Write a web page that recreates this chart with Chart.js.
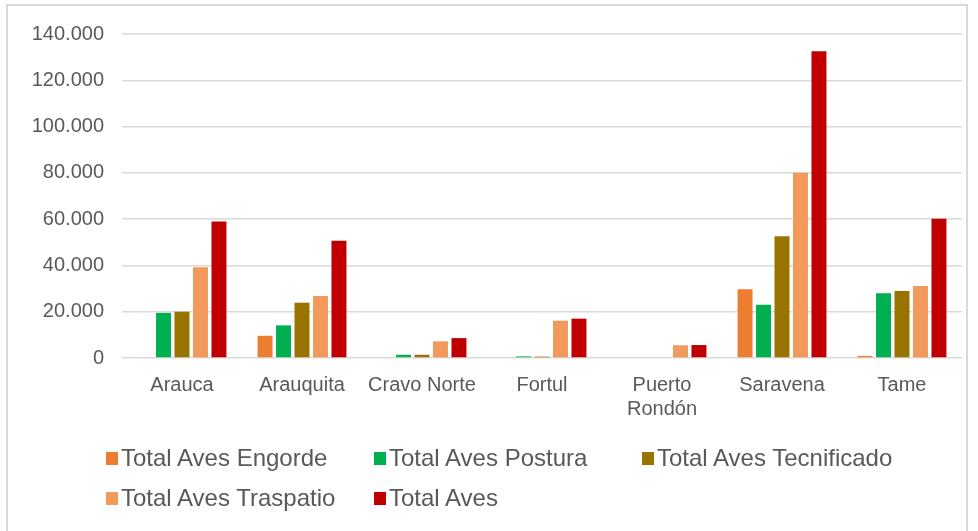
<!DOCTYPE html>
<html lang="es">
<head>
<meta charset="utf-8">
<script src="https://cdn.jsdelivr.net/npm/chart.js@4"></script>
<style>
    html, body {
        margin: 0;
        padding: 0;
        background: #ffffff;
    }

    .frame {
        position: relative;
        width: 978px;
        height: 531px;
        overflow: hidden;
        font-family: "Liberation Sans", Arial, sans-serif;
    }

    .frame-border {
        position: absolute;
        left: 6px;
        top: 4px;
        width: 962px;
        height: 600px;
        border: 2px solid #d9d9d9;
        box-sizing: border-box;
    }

    .frame canvas {
        position: absolute;
        left: 0;
        top: 0;
    }

    .legend {
        position: absolute;
        left: 106px;
        top: 444px;
        display: grid;
        grid-template-columns: repeat(3, 268px);
        row-gap: 12px;
    }

    .legend-item {
        display: flex;
        align-items: center;
        height: 28px;
        font-size: 24px;
        color: #595959;
        white-space: nowrap;
    }

    .legend-swatch {
        width: 12px;
        height: 13px;
        margin-right: 3px;
        flex: none;
    }
</style>
</head>
<body>
<div class="frame">
    <div class="frame-border"></div>
    <canvas id="chart" width="978" height="531"></canvas>
    <div class="legend" id="legend"></div>
</div>
<script>
const municipios = ['Arauca', 'Arauquita', 'Cravo Norte', 'Fortul', ['Puerto', 'Rondón'], 'Saravena', 'Tame'];

const avesEngorde = [300, 9600, 0, 0, 0, 29700, 900];
const avesPostura = [19500, 14100, 1400, 700, 0, 23000, 28000];
const avesTecnificado = [20000, 23900, 1400, 600, 0, 52600, 29000];
const avesTraspatio = [39200, 26800, 7200, 16100, 5500, 80000, 31100];
const totalAves = [59000, 50700, 8600, 17000, 5600, 132500, 60200];

const yTicks = [0, 20000, 40000, 60000, 80000, 100000, 120000, 140000];

const seriesNames = ['Total Aves Engorde', 'Total Aves Postura', 'Total Aves Tecnificado', 'Total Aves Traspatio', 'Total Aves'];
const seriesColors = ['#ED7D31', '#00B050', '#997300', '#F19A5C', '#C00000'];
const seriesValues = [avesEngorde, avesPostura, avesTecnificado, avesTraspatio, totalAves];

const formatMiles = (value) => value.toLocaleString('de-DE');

const canvas = document.getElementById('chart');
const chart = new Chart(canvas.getContext('2d'), {
    type: 'bar',
    data: {
        labels: municipios,
        datasets: seriesNames.map((name, i) => ({
            label: name,
            data: seriesValues[i],
            backgroundColor: seriesColors[i],
            borderWidth: 0,
            categoryPercentage: 0.77,
            barPercentage: 0.81,
        })),
    },
    options: {
        responsive: false,
        animation: false,
        layout: {
            padding: {
                top: 34,
                right: 16,
                bottom: 0,
                left: 0,
            },
        },
        plugins: {
            legend: {
                display: false,
            },
            tooltip: {
                enabled: false,
            },
        },
        scales: {
            x: {
                grid: {
                    display: false,
                },
                border: {
                    display: false,
                },
                ticks: {
                    color: '#595959',
                    padding: 7,
                    maxRotation: 0,
                    autoSkip: false,
                    font: {
                        family: '"Liberation Sans", Arial, sans-serif',
                        size: 20,
                    },
                },
                afterFit(scale) {
                    scale.height = 531 - 358;
                },
            },
            y: {
                min: 0,
                max: yTicks[yTicks.length - 1],
                afterBuildTicks(scale) {
                    scale.ticks = yTicks.map((value) => ({ value }));
                },
                grid: {
                    color: '#d9d9d9',
                    lineWidth: 1.5,
                    drawTicks: false,
                },
                border: {
                    display: false,
                },
                ticks: {
                    color: '#595959',
                    padding: 18,
                    callback: (value) => formatMiles(value),
                    font: {
                        family: '"Liberation Sans", Arial, sans-serif',
                        size: 20,
                    },
                },
                afterFit(scale) {
                    scale.width = 122;
                },
            },
        },
    },
});

// legend laid out as a fixed three-column grid
const legendRoot = document.getElementById('legend');
chart.options.plugins.legend.labels.generateLabels(chart).forEach((item) => {
    const entry = document.createElement('div');
    entry.className = 'legend-item';

    const swatch = document.createElement('span');
    swatch.className = 'legend-swatch';
    swatch.style.background = item.fillStyle;

    const text = document.createElement('span');
    text.textContent = item.text;

    entry.append(swatch, text);
    legendRoot.append(entry);
});
</script>
</body>
</html>
